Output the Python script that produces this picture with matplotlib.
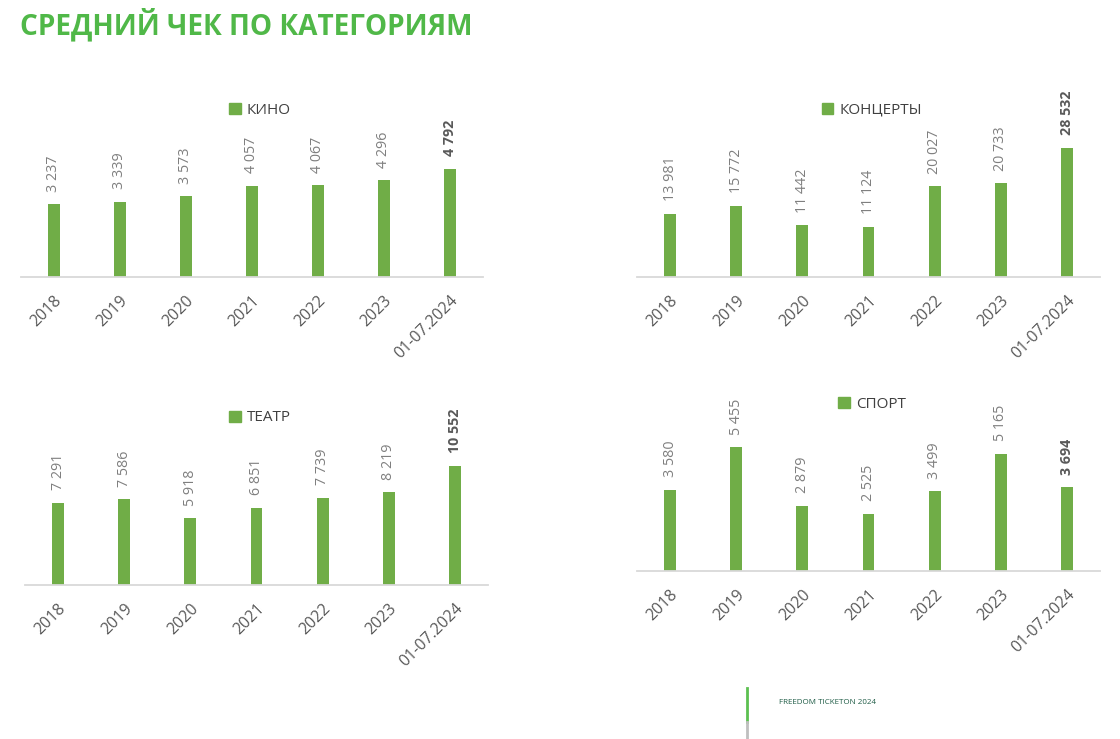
import matplotlib.pyplot as plt
from matplotlib.lines import Line2D
from matplotlib.patches import Patch

plt.rcParams['font.family'] = ['Open Sans', 'DejaVu Sans']

years = ['2018', '2019', '2020', '2021', '2022', '2023', '01-07.2024']

kino = [3237, 3339, 3573, 4057, 4067, 4296, 4792]
koncerty = [13981, 15772, 11442, 11124, 20027, 20733, 28532]
teatr = [7291, 7586, 5918, 6851, 7739, 8219, 10552]
sport = [3580, 5455, 2879, 2525, 3499, 5165, 3694]

W, H = 1120, 739
bar_col = '#70AD47'

fig = plt.figure(figsize=(W / 100, H / 100), dpi=100)


def fmt(v):
    return f'{v:,}'.replace(',', ' ')


def panel(vals, name, left, right, base, ymax, leg_x, leg_y):
    # pixel box -> figure fraction
    ax = fig.add_axes([left / W, 1 - base / H, (right - left) / W, 170 / H])
    x = range(len(vals))
    ax.bar(x, vals, width=0.18, color=bar_col, zorder=2)
    ax.set_xlim(-0.5, len(vals) - 0.5)
    ax.set_ylim(0, ymax)
    for s in ['top', 'right', 'left']:
        ax.spines[s].set_visible(False)
    ax.spines['bottom'].set_color('#D9D9D9')
    ax.spines['bottom'].set_linewidth(1.3)
    ax.set_yticks([])
    ax.set_xticks(list(x))
    ax.set_xticklabels(years, rotation=45, ha='right', rotation_mode='anchor',
                       fontsize=11.5, color='#595959')
    ax.tick_params(axis='x', length=0, pad=11)
    for i, v in enumerate(vals):
        last = i == len(vals) - 1
        ax.annotate(fmt(v), (i, v), xytext=(0, 9), textcoords='offset points',
                    rotation=90, ha='center', va='bottom', fontsize=10.3,
                    color='#595959' if last else '#7F7F7F',
                    fontweight='bold' if last else 'normal')
    ax.legend(handles=[Patch(color=bar_col, label=name)], loc='center',
              bbox_to_anchor=(leg_x / W, 1 - leg_y / H), bbox_transform=fig.transFigure,
              frameon=False, fontsize=11, handlelength=0.75, handleheight=0.75,
              handletextpad=0.4, labelcolor='#404040')
    return ax


panel(kino, 'КИНО', 21, 483, 277, 7540, 260, 110)
panel(koncerty, 'КОНЦЕРТЫ', 637, 1100, 277, 37600, 872, 110)
panel(teatr, 'ТЕАТР', 25, 488, 585, 15070, 260, 418)
panel(sport, 'СПОРТ', 637, 1100, 571, 7480, 872, 404)

fig.text(20 / W, 1 - 25 / H, 'СРЕДНИЙ ЧЕК ПО КАТЕГОРИЯМ', fontsize=20.2,
         fontweight='bold', color='#50B848', ha='left', va='center')

# footer
fig.add_artist(Line2D([747 / W, 747 / W], [1 - 688 / H, 1 - 722 / H],
                      color='#5CC050', lw=2, transform=fig.transFigure))
fig.add_artist(Line2D([747 / W, 747 / W], [1 - 722 / H, 0],
                      color='#BFBFBF', lw=2, transform=fig.transFigure))
fig.text(779 / W, 1 - 703 / H, 'FREEDOM TICKETON 2024', fontsize=5.8,
         color='#1F5C46', ha='left', va='center')

fig.savefig('out.png', dpi=100)
